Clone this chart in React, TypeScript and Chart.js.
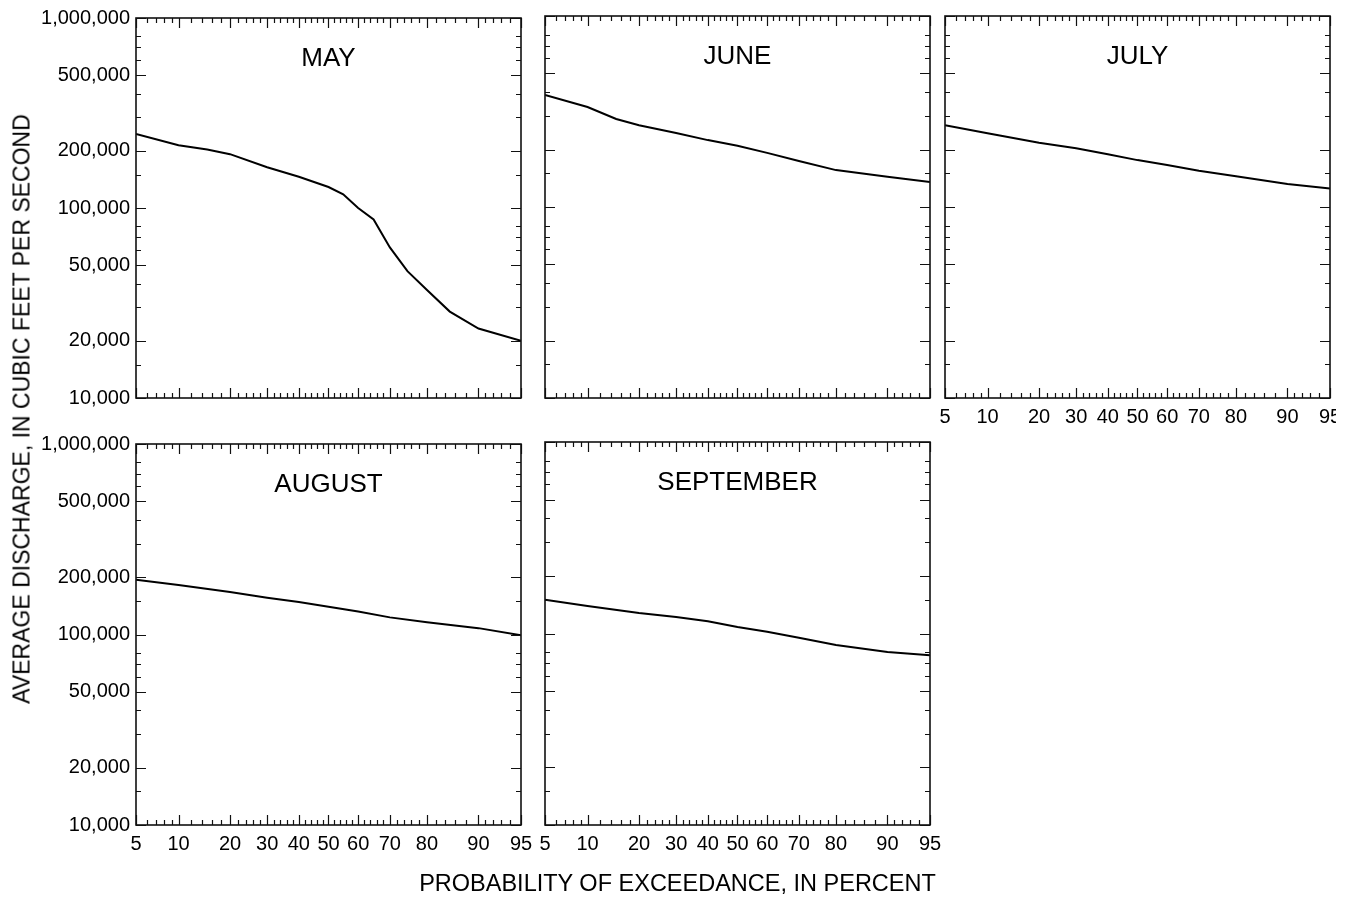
import React, { useEffect, useRef } from "react";
import { Chart, registerables, LinearScale } from "chart.js";

Chart.register(...registerables);

// ---------- data ----------
const MAY_P = [5, 10, 15, 20, 30, 40, 50, 55, 60, 65, 70, 75, 80, 85, 90, 95];
const MAY_Q = [245000, 214000, 203000, 192000, 164000, 146000, 129000, 118000, 100000, 87000, 62000, 46500, 37000, 28500, 23200, 20000];

const JUNE_P = [5, 10, 15, 20, 30, 40, 50, 60, 70, 80, 90, 95];
const JUNE_Q = [386000, 334000, 289000, 268000, 244000, 224000, 209000, 192000, 174000, 156000, 144000, 135000];

const JULY_P = [5, 10, 20, 30, 40, 50, 60, 70, 80, 90, 95];
const JULY_Q = [268000, 243000, 217000, 203000, 189000, 176000, 166000, 155000, 145000, 132000, 125000];

const AUGUST_P = [5, 10, 20, 30, 40, 50, 60, 70, 80, 90, 95];
const AUGUST_Q = [194000, 182000, 167000, 156000, 148000, 140000, 132000, 123000, 116000, 108000, 99000];

const SEPTEMBER_P = [5, 10, 20, 30, 40, 50, 60, 70, 80, 90, 95];
const SEPTEMBER_Q = [150000, 139000, 128000, 122000, 116000, 108000, 102000, 95000, 87000, 80000, 77000];

const X_MAJOR = [5, 10, 20, 30, 40, 50, 60, 70, 80, 90, 95];
const X_MINOR = [6, 7, 8, 9, 12, 14, 16, 18, 22, 24, 26, 28, 32, 34, 36, 38, 42, 44, 46, 48, 52, 54, 56, 58, 62, 64, 66, 68, 72, 74, 76, 78, 82, 84, 86, 88, 91, 92, 93, 94];
const Y_MAJOR = [10000, 20000, 50000, 100000, 200000, 500000, 1000000];
const Y_MINOR = [15000, 30000, 40000, 60000, 70000, 80000, 150000, 300000, 400000, 600000, 700000, 800000];

const X_TITLE = "PROBABILITY OF EXCEEDANCE, IN PERCENT";
const Y_TITLE = "AVERAGE DISCHARGE, IN CUBIC FEET PER SECOND";

const FONT = '"Liberation Sans", Arial, Helvetica, sans-serif';

// ---------- normal probability scale ----------
function probit(p: number): number {
  const a = [-3.969683028665376e1, 2.209460984245205e2, -2.759285104469687e2, 1.38357751867269e2, -3.066479806614716e1, 2.506628277459239];
  const b = [-5.447609879822406e1, 1.615858368580409e2, -1.556989798598866e2, 6.680131188771972e1, -1.328068155288572e1];
  const c = [-7.784894002430293e-3, -3.223964580411365e-1, -2.400758277161838, -2.549732539343734, 4.374664141464968, 2.938163982698783];
  const d = [7.784695709041462e-3, 3.224671290700398e-1, 2.445134137142996, 3.754408661907416];
  const pl = 0.02425;
  let q: number, r: number;
  if (p < pl) {
    q = Math.sqrt(-2 * Math.log(p));
    return (((((c[0] * q + c[1]) * q + c[2]) * q + c[3]) * q + c[4]) * q + c[5]) / ((((d[0] * q + d[1]) * q + d[2]) * q + d[3]) * q + 1);
  }
  if (p <= 1 - pl) {
    q = p - 0.5;
    r = q * q;
    return ((((((a[0] * r + a[1]) * r + a[2]) * r + a[3]) * r + a[4]) * r + a[5]) * q) / (((((b[0] * r + b[1]) * r + b[2]) * r + b[3]) * r + b[4]) * r + 1);
  }
  q = Math.sqrt(-2 * Math.log(1 - p));
  return -(((((c[0] * q + c[1]) * q + c[2]) * q + c[3]) * q + c[4]) * q + c[5]) / ((((d[0] * q + d[1]) * q + d[2]) * q + d[3]) * q + 1);
}

class ProbabilityScale extends LinearScale {
  static id = "probability";
  static defaults = LinearScale.defaults;
  determineDataLimits() {
    (this as any).min = 5;
    (this as any).max = 95;
  }
  buildTicks() {
    return X_MAJOR.map((v) => ({ value: v }));
  }
  getPixelForValue(value: number) {
    const self = this as any;
    const z0 = probit(self.min / 100);
    const z1 = probit(self.max / 100);
    return self.getPixelForDecimal((probit(value / 100) - z0) / (z1 - z0));
  }
  getValueForPixel(pixel: number) {
    const self = this as any;
    return self.min + self.getDecimalForPixel(pixel) * (self.max - self.min);
  }
}
Chart.register(ProbabilityScale as any);

// ---------- frame / ticks / title plugin ----------
const framePlugin = {
  id: "frame",
  afterDraw(chart: any, _args: any, opts: any) {
    const { ctx, chartArea: a, scales } = chart;
    const xs = scales.x;
    const ys = scales.y;
    ctx.save();
    ctx.strokeStyle = "#111";
    ctx.lineWidth = 1.2;
    ctx.beginPath();
    const xt = X_MAJOR.map((v) => [v, 10]).concat(X_MINOR.map((v) => [v, 5]));
    for (const [v, len] of xt) {
      const px = Math.round(xs.getPixelForValue(v)) + 0.5;
      ctx.moveTo(px, a.bottom);
      ctx.lineTo(px, a.bottom - len);
      ctx.moveTo(px, a.top);
      ctx.lineTo(px, a.top + len);
    }
    const yt = Y_MAJOR.map((v) => [v, 10]).concat(Y_MINOR.map((v) => [v, 5]));
    for (const [v, len] of yt) {
      const py = Math.round(ys.getPixelForValue(v)) + 0.5;
      ctx.moveTo(a.left, py);
      ctx.lineTo(a.left + len, py);
      ctx.moveTo(a.right, py);
      ctx.lineTo(a.right - len, py);
    }
    ctx.stroke();
    ctx.lineWidth = 1.6;
    ctx.strokeRect(a.left, a.top, a.right - a.left, a.bottom - a.top);
    ctx.fillStyle = "#000";
    ctx.font = `26px ${FONT}`;
    ctx.textAlign = "center";
    ctx.textBaseline = "alphabetic";
    ctx.fillText(opts.title, (a.left + a.right) / 2, a.top + 47.5);
    ctx.restore();
  },
};

// ---------- layout ----------
const LEFT_SPACE = 136;
const TOP_SPACE = 16;
const RIGHT_SPACE = 24;
const BOTTOM_SPACE = 44;
const PLOT_W = 385;

type PanelCfg = {
  title: string;
  p: number[];
  q: number[];
  plotLeft: number;
  plotTop: number;
  plotH: number;
  xLabels: boolean;
  yLabels: boolean;
  clipRight?: number;
};

const PANELS: PanelCfg[] = [
  { title: "MAY", p: MAY_P, q: MAY_Q, plotLeft: 136, plotTop: 16, plotH: 382, xLabels: false, yLabels: true },
  { title: "JUNE", p: JUNE_P, q: JUNE_Q, plotLeft: 545, plotTop: 16, plotH: 382, xLabels: false, yLabels: false },
  { title: "JULY", p: JULY_P, q: JULY_Q, plotLeft: 945, plotTop: 16, plotH: 382, xLabels: true, yLabels: false, clipRight: 1336 },
  { title: "AUGUST", p: AUGUST_P, q: AUGUST_Q, plotLeft: 136, plotTop: 442, plotH: 383, xLabels: true, yLabels: true },
  { title: "SEPTEMBER", p: SEPTEMBER_P, q: SEPTEMBER_Q, plotLeft: 545, plotTop: 442, plotH: 383, xLabels: true, yLabels: false },
];

function Panel({ cfg }: { cfg: PanelCfg }) {
  const ref = useRef<HTMLCanvasElement>(null);
  const W = LEFT_SPACE + PLOT_W + RIGHT_SPACE;
  const H = TOP_SPACE + cfg.plotH + BOTTOM_SPACE;
  const left = cfg.plotLeft - LEFT_SPACE;
  const top = cfg.plotTop - TOP_SPACE;
  const clipW = cfg.clipRight ? cfg.clipRight - left : W;

  useEffect(() => {
    if (!ref.current) return;
    const chart = new Chart(ref.current, {
      type: "line",
      data: {
        datasets: [
          {
            data: cfg.p.map((p, i) => ({ x: p, y: cfg.q[i] })),
            borderColor: "#000",
            borderWidth: 2,
            pointRadius: 0,
            fill: false,
            tension: 0,
          },
        ],
      },
      plugins: [framePlugin],
      options: {
        animation: false,
        responsive: false,
        maintainAspectRatio: false,
        events: [],
        layout: { padding: { left: 0, top: TOP_SPACE, right: RIGHT_SPACE, bottom: 0 } },
        plugins: {
          legend: { display: false },
          tooltip: { enabled: false },
          frame: { title: cfg.title },
        } as any,
        scales: {
          x: {
            type: "probability" as any,
            min: 5,
            max: 95,
            grid: { display: false, drawTicks: false },
            border: { display: false },
            ticks: {
              display: cfg.xLabels,
              autoSkip: false,
              maxRotation: 0,
              padding: 7,
              color: "#000",
              font: { family: FONT, size: 20 },
              callback: (v: any) => String(v),
            },
            afterFit: (s: any) => {
              s.height = BOTTOM_SPACE;
            },
          } as any,
          y: {
            type: "logarithmic",
            min: 10000,
            max: 1000000,
            grid: { display: false, drawTicks: false },
            border: { display: false },
            afterBuildTicks: (s: any) => {
              s.ticks = Y_MAJOR.map((v) => ({ value: v }));
            },
            ticks: {
              display: cfg.yLabels,
              autoSkip: false,
              padding: 6,
              color: "#000",
              font: { family: FONT, size: 20 },
              callback: (v: any) => Number(v).toLocaleString("en-US"),
            },
            afterFit: (s: any) => {
              s.width = LEFT_SPACE;
            },
          },
        },
      },
    });
    return () => chart.destroy();
  }, []);

  return (
    <div style={{ position: "absolute", left, top, width: clipW, height: H, overflow: "hidden" }}>
      <canvas ref={ref} width={W} height={H} style={{ width: W, height: H, display: "block" }} />
    </div>
  );
}

export default function App() {
  return (
    <div
      style={{
        position: "absolute",
        left: 0,
        top: 0,
        width: 1348,
        height: 899,
        overflow: "hidden",
        background: "#fff",
        fontFamily: FONT,
      }}
    >
      {PANELS.map((cfg) => (
        <Panel key={cfg.title} cfg={cfg} />
      ))}
      <div
        style={{
          position: "absolute",
          left: 677.5,
          top: 883,
          transform: "translate(-50%, -50%)",
          whiteSpace: "nowrap",
          fontSize: 23.5,
          color: "#000",
        }}
      >
        {X_TITLE}
      </div>
      <div
        style={{
          position: "absolute",
          left: 22,
          top: 409,
          transform: "translate(-50%, -50%) rotate(-90deg)",
          whiteSpace: "nowrap",
          fontSize: 23,
          color: "#000",
        }}
      >
        {Y_TITLE}
      </div>
    </div>
  );
}
